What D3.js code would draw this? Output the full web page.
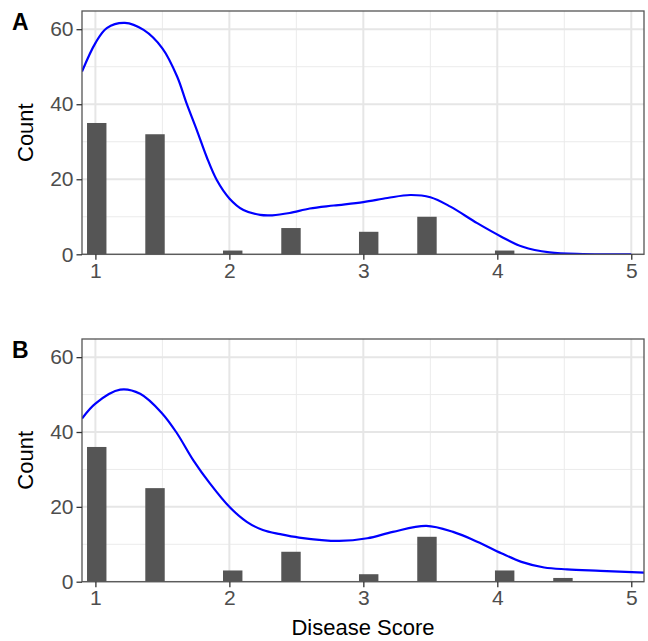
<!DOCTYPE html>
<html>
<head>
<meta charset="utf-8">
<script src="https://cdn.jsdelivr.net/npm/d3@7"></script>
<style>
  html, body { margin: 0; padding: 0; background: #fff; }
  svg { display: block; font-family: "Liberation Sans", Arial, sans-serif; }
</style>
</head>
<body>
<svg id="chart" width="648" height="641"></svg>
<script>
// ---------------- data ----------------
const binWidth = 0.145;
const binCentersA = [1.01, 1.445, 2.025, 2.46, 3.04, 3.475, 4.055];
const countsA     = [35, 32, 1, 7, 6, 10, 1];
const binCentersB = [1.01, 1.445, 2.025, 2.46, 3.04, 3.475, 4.055, 4.49];
const countsB     = [36, 25, 3, 8, 2, 12, 3, 1];

const densityXA = [0.9, 1.0, 1.085, 1.22, 1.36, 1.5, 1.61, 1.68, 1.757, 1.83, 1.906, 2.0, 2.105, 2.23, 2.32, 2.45, 2.6, 2.78, 3.0, 3.18, 3.35, 3.5, 3.65, 3.85, 4.03, 4.19, 4.39, 4.64, 5.0];
const densityYA = [48.7, 56.3, 60.3, 61.7, 59.8, 54.9, 47.4, 40.3, 33.1, 26.0, 19.8, 14.9, 11.8, 10.5, 10.4, 11.0, 12.2, 13.0, 13.9, 15.0, 15.8, 15.2, 12.7, 8.3, 4.7, 2.0, 0.5, 0.05, 0];
const densityXB = [0.9, 1.0, 1.185, 1.334, 1.5, 1.61, 1.73, 1.856, 2.0, 2.13, 2.25, 2.38, 2.52, 2.82, 3.03, 3.22, 3.47, 3.67, 3.85, 4.03, 4.18, 4.35, 4.52, 4.77, 5.1];
const densityYB = [43.6, 47.6, 51.3, 50.2, 44.9, 39.6, 32.5, 26.2, 20.0, 16.0, 13.8, 12.7, 11.8, 10.9, 11.6, 13.3, 14.9, 13.3, 10.7, 7.6, 5.3, 3.8, 3.3, 2.9, 2.4];

const xTicks = [1, 2, 3, 4, 5];
const yTicks = [0, 20, 40, 60];
const xMinor = [1.5, 2.5, 3.5, 4.5];
const yMinor = [10, 30, 50];
const panelTags = ["A", "B"];
const yTitle = "Count";
const xTitle = "Disease Score";

// ---------------- layout ----------------
const svg = d3.select("#chart");
const left = 82, right = 644;
const panels = [
  { tag: panelTags[0], top: 11, bottom: 254.3, centers: binCentersA, counts: countsA, dx: densityXA, dy: densityYA },
  { tag: panelTags[1], top: 339, bottom: 581.7, centers: binCentersB, counts: countsB, dx: densityXB, dy: densityYB }
];

const x = d3.scaleLinear().domain([0.9, 5.095]).range([left, right]);

panels.forEach((p, i) => {
  const y = d3.scaleLinear().domain([0, 64.85]).range([p.bottom, p.top]);
  const g = svg.append("g");
  const clipId = "clip" + i;
  svg.append("clipPath").attr("id", clipId)
    .append("rect").attr("x", left).attr("y", p.top).attr("width", right - left).attr("height", p.bottom - p.top);

  // grid minor
  g.selectAll(".vmin").data(xMinor).join("line")
    .attr("x1", d => x(d)).attr("x2", d => x(d)).attr("y1", p.top).attr("y2", p.bottom)
    .attr("stroke", "#ebebeb").attr("stroke-width", 1);
  g.selectAll(".hmin").data(yMinor).join("line")
    .attr("x1", left).attr("x2", right).attr("y1", d => y(d)).attr("y2", d => y(d))
    .attr("stroke", "#ebebeb").attr("stroke-width", 1);
  // grid major
  g.selectAll(".vmaj").data(xTicks).join("line")
    .attr("x1", d => x(d)).attr("x2", d => x(d)).attr("y1", p.top).attr("y2", p.bottom)
    .attr("stroke", "#e6e6e6").attr("stroke-width", 2);
  g.selectAll(".hmaj").data(yTicks).join("line")
    .attr("x1", left).attr("x2", right).attr("y1", d => y(d)).attr("y2", d => y(d))
    .attr("stroke", "#e6e6e6").attr("stroke-width", 2);

  // bars
  const bars = p.centers.map((c, k) => ({ c, n: p.counts[k] }));
  g.append("g").attr("clip-path", `url(#${clipId})`)
    .selectAll("rect").data(bars).join("rect")
    .attr("x", d => x(d.c - binWidth / 2))
    .attr("width", d => x(d.c + binWidth / 2) - x(d.c - binWidth / 2))
    .attr("y", d => y(d.n))
    .attr("height", d => y(0) - y(d.n))
    .attr("fill", "#555555");

  // density line
  const pts = p.dx.map((v, k) => [v, p.dy[k]]);
  const line = d3.line().x(d => x(d[0])).y(d => y(d[1])).curve(d3.curveCatmullRom.alpha(0.5));
  g.append("path").attr("clip-path", `url(#${clipId})`)
    .attr("d", line(pts)).attr("fill", "none").attr("stroke", "#0000ff").attr("stroke-width", 2.2);

  // panel border
  g.append("rect").attr("x", left).attr("y", p.top).attr("width", right - left).attr("height", p.bottom - p.top)
    .attr("fill", "none").attr("stroke", "#555").attr("stroke-width", 1.3);

  // axes
  const yAxis = d3.axisLeft(y).tickValues(yTicks).tickSize(5.5).tickPadding(3).tickFormat(d3.format("d"));
  const ya = g.append("g").attr("transform", `translate(${left},0)`).call(yAxis);
  const xAxis = d3.axisBottom(x).tickValues(xTicks).tickSize(5.5).tickPadding(3).tickFormat(d3.format("d"));
  const xa = g.append("g").attr("transform", `translate(0,${p.bottom})`).call(xAxis);
  [ya, xa].forEach(a => {
    a.select(".domain").remove();
    a.selectAll(".tick line").attr("stroke", "#333").attr("stroke-width", 1.3);
    a.selectAll(".tick text").attr("fill", "#4d4d4d").style("font-size", "21px")
      .style("font-family", '"Liberation Sans", Arial, sans-serif');
  });

  // y title
  svg.append("text")
    .attr("transform", `translate(33,${(p.top + p.bottom) / 2}) rotate(-90)`)
    .attr("text-anchor", "middle").attr("fill", "#000").style("font-size", "22px")
    .text(yTitle);

  // panel tag
  svg.append("text").attr("x", 12).attr("y", p.top + 19)
    .attr("font-weight", "bold").attr("fill", "#000").style("font-size", "23px")
    .text(p.tag);
});

svg.append("text").attr("x", (left + right) / 2).attr("y", 635)
  .attr("text-anchor", "middle").attr("fill", "#000").style("font-size", "22px")
  .text(xTitle);
</script>
</body>
</html>
